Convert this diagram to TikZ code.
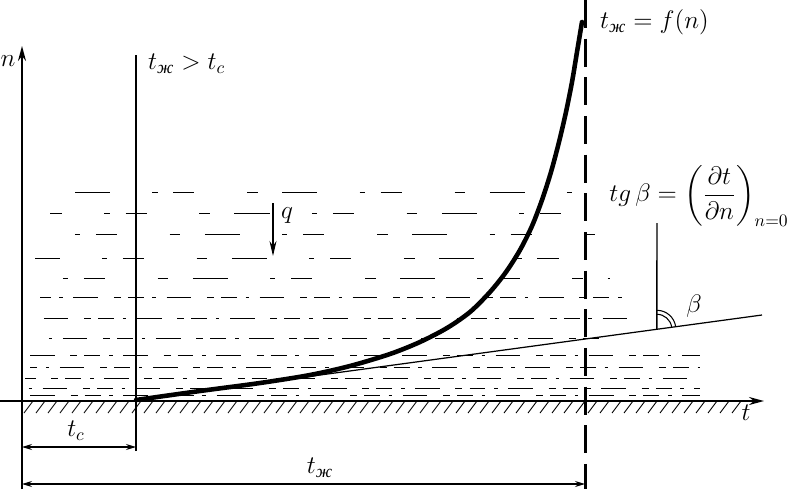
\documentclass[tikz,border=0pt]{standalone}
\usepackage{amsmath}
\usepackage{fontspec}
\newfontfamily\cyrfont{Liberation Serif}
\usetikzlibrary{calc, positioning, arrows.meta}
\newcommand{\zh}{\text{\cyrfont\itshape ж}}
\tikzset{
  lbl/.style={font=\Large},
  axis/.style={line width=1.1pt},
  arr/.style={-{Stealth[length=3mm, width=1.6mm]}, line width=1.1pt},
  dim/.style={{Stealth[length=2mm, width=1.2mm]}-{Stealth[length=2mm, width=1.2mm]}, line width=0.6pt},
  water/.style={line width=0.5pt, dash pattern=on 9pt off 5pt on 2pt off 6pt on 14pt off 9pt on 4pt off 4pt, dash phase=#1},
  watertop/.style={line width=0.5pt, dash pattern=on 20pt off 24pt on 3pt off 9pt on 12pt off 30pt on 6pt off 14pt, dash phase=#1},
}
\def\GndY{401}
\def\AxX{22}
\def\TcX{136}
\def\AsX{585}

\begin{document}
\begin{tikzpicture}[x=0.02cm, y=-0.02cm, >=Stealth]
  \useasboundingbox (0,0) rectangle (797,497);

  % ----- main points -----
  \coordinate (O) at (\TcX, 400);
  \coordinate (G0) at (0, \GndY);
  \coordinate (G1) at (764, \GndY);
  \coordinate (nTop) at (\AxX, 46);
  \coordinate (nBot) at (\AxX, 489);
  \coordinate (cTop) at (\TcX, 55);
  \coordinate (cBot) at (\TcX, 451);
  \coordinate (aTop) at (\AsX, 0);
  \coordinate (aBot) at (\AsX, 489);
  \coordinate (T1) at (762, 315);

  % ----- liquid layers (horizontal strokes) -----
  \foreach \wy/\wa/\wb/\ph in {192/75/585/0, 213/50/600/13, 234/45/600/27,
      258/35/600/6, 278/40/610/31}
    \draw[watertop=\ph pt] (\wa, \wy) -- (\wb, \wy);
  \foreach \wy/\wa/\wb/\ph in {297/40/630/3, 318/35/630/17, 338/40/600/9,
      355/30/700/22, 367/30/700/5, 378/25/700/30, 388/25/700/12, 395/25/700/19}
    \draw[water=\ph pt] (\wa, \wy) -- (\wb, \wy);

  % ----- wall and hatching -----
  \foreach \x in {24,36,...,732}
    \draw[line width=0.5pt] (\x, 413) -- ++(9, -12);
  \draw[arr] (G0) -- (G1);
  \node[lbl] (tAx) at (746, 413) {$t$};

  % ----- axes -----
  \draw[arr] (nBot) -- (nTop);
  \node[lbl] (nAx) at (8, 61) {$n$};
  \draw[axis] (cBot) -- (cTop);
  \node[lbl, anchor=west] (cond) at (142, 64) {$t_{\zh} > t_c$};
  \draw[line width=1.7pt, dash pattern=on 16pt off 6pt] (aTop) -- (aBot);
  \node[lbl, anchor=west] (fn) at (594, 22) {$t_{\zh} = f(n)$};

  % ----- tangent at the wall -----
  \draw[line width=0.7pt] (O) -- (T1);
  \coordinate (bV) at ($(O)!0.832!(T1)$);
  \coordinate (bTop) at (657, 223);
  \draw[line width=0.8pt] (bV) -- (bTop);
  \draw[line width=0.6pt] (bV) ++(-7.7:15) arc[start angle=-7.7, end angle=-90, radius=15];
  \draw[line width=0.6pt] (bV) ++(-7.7:19) arc[start angle=-7.7, end angle=-90, radius=19];
  \node[lbl] (beta) at (694, 306) {$\beta$};
  \node[lbl] (tg) at (699, 196)
    {$tg\,\beta = \left(\dfrac{\partial t}{\partial n}\right)_{n=0}$};

  % ----- temperature profile -----
  \draw[line width=2.6pt, line cap=round] plot[smooth] coordinates
    {(O) (200,391) (260,383) (310,375) (350,366) (390,354) (420,342)
     (447,328) (470,312) (490,292) (506,272) (520,250) (532,226)
     (542,200) (551,172) (559,142) (566,112) (572,82) (577,52) (582,22)};

  % ----- heat flux -----
  \coordinate (q0) at (273, 203);
  \coordinate (q1) at (273, 256);
  \draw[-{Stealth[length=3mm, width=1.4mm]}, line width=0.8pt] (q0) -- (q1);
  \node[lbl] (qLbl) at (287, 216) {$q$};

  % ----- dimensions -----
  \coordinate (dc0) at (\AxX, 447);
  \coordinate (dc1) at (\TcX, 447);
  \draw[dim] (dc0) -- (dc1);
  \node[lbl] (tc) at (76, 431) {$t_c$};
  \coordinate (dz0) at (\AxX, 484);
  \coordinate (dz1) at (\AsX, 484);
  \draw[dim] (dz0) -- (dz1);
  \node[lbl] (tz) at (320, 468) {$t_{\zh}$};
\end{tikzpicture}
\end{document}
